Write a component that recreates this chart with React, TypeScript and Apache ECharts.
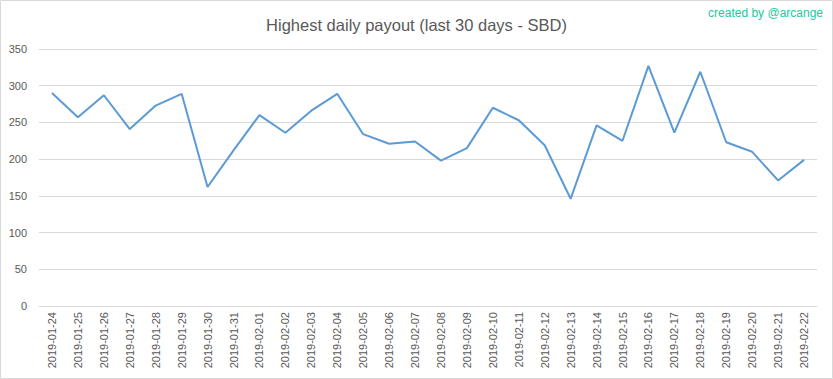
import React, { useEffect, useRef } from "react";
import * as echarts from "echarts";

const categories = [
  "2019-01-24", "2019-01-25", "2019-01-26", "2019-01-27", "2019-01-28", "2019-01-29",
  "2019-01-30", "2019-01-31", "2019-02-01", "2019-02-02", "2019-02-03", "2019-02-04",
  "2019-02-05", "2019-02-06", "2019-02-07", "2019-02-08", "2019-02-09", "2019-02-10",
  "2019-02-11", "2019-02-12", "2019-02-13", "2019-02-14", "2019-02-15", "2019-02-16",
  "2019-02-17", "2019-02-18", "2019-02-19", "2019-02-20", "2019-02-21", "2019-02-22",
];

const payouts = [
  290, 257, 287, 241, 273, 289, 162, 212, 260, 236, 266, 289, 234, 221, 224,
  198, 215, 270, 253, 219, 146, 246, 225, 327, 236, 319, 223, 210, 171, 199,
];

const titleText = "Highest daily payout (last 30 days - SBD)";
const creditText = "created by @arcange";

export default function App() {
  const ref = useRef<HTMLDivElement>(null);
  useEffect(() => {
    document.body.style.margin = "0";
    const chart = echarts.init(ref.current!, null, { renderer: "svg" });
    chart.setOption({
      animation: false,
      backgroundColor: "#ffffff",
      title: {
        text: titleText,
        left: "center",
        top: 11,
        textStyle: {
          fontFamily: "Liberation Sans",
          fontSize: 16.5,
          fontWeight: "normal",
          color: "#595959",
        },
      },
      graphic: [
        {
          type: "rect",
          shape: { x: 0.5, y: 0.5, width: 832, height: 378 },
          style: { fill: "none", stroke: "#d9d9d9", lineWidth: 1 },
          silent: true,
        },
        {
          type: "text",
          right: 10,
          top: 7,
          style: {
            text: creditText,
            fill: "#21c9a0",
            fontFamily: "Liberation Sans",
            fontSize: 12,
          },
        },
      ],
      grid: { left: 39, right: 16, top: 49, bottom: 73 },
      xAxis: {
        type: "category",
        data: categories,
        boundaryGap: true,
        axisLine: { show: true, lineStyle: { color: "#d9d9d9" } },
        axisTick: { show: false },
        axisLabel: {
          rotate: 90,
          interval: 0,
          margin: 6,
          color: "#595959",
          fontFamily: "Liberation Sans",
          fontSize: 11,
        },
      },
      yAxis: {
        type: "value",
        min: 0,
        max: 350,
        interval: 50,
        axisLine: { show: false },
        axisTick: { show: false },
        splitLine: { lineStyle: { color: "#d9d9d9" } },
        axisLabel: {
          margin: 12,
          color: "#595959",
          fontFamily: "Liberation Sans",
          fontSize: 11,
        },
      },
      series: [
        {
          type: "line",
          data: payouts,
          showSymbol: false,
          symbol: "none",
          lineStyle: { color: "#5b9bd5", width: 2 },
          itemStyle: { color: "#5b9bd5" },
        },
      ],
    });
    return () => chart.dispose();
  }, []);
  return (
    <div
      ref={ref}
      style={{ position: "absolute", left: 0, top: 0, width: 833, height: 379 }}
    />
  );
}
